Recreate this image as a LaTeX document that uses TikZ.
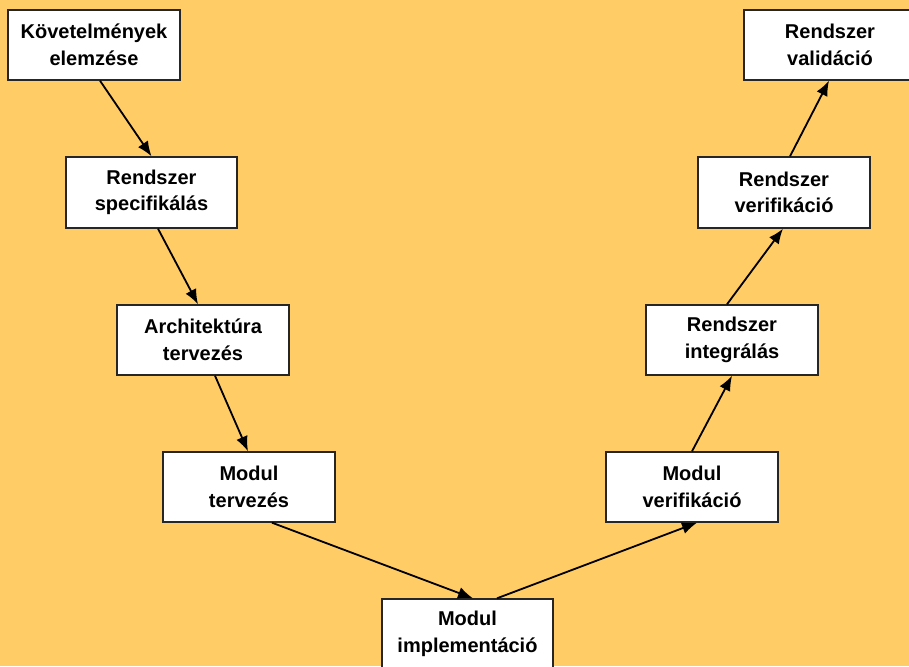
\documentclass[tikz,border=0pt]{standalone}
\usepackage{fontspec}
\setmainfont{Liberation Sans}
\usetikzlibrary{arrows.meta}
\definecolor{bgyellow}{HTML}{FFCC66}
\begin{document}
\begin{tikzpicture}[x=1pt,y=-1pt,
  stepbox/.style={draw=black!85, line width=1.4pt, fill=white, rectangle,
    minimum width=172pt, minimum height=70pt, inner sep=0pt, align=center,
    font=\bfseries\fontsize{20}{26.5}\selectfont},
  conn/.style={line width=1.8pt, -{Latex[length=15pt,width=12pt]}}]
\useasboundingbox (0,0) rectangle (909,666);
\clip (0,0) rectangle (909,666);
\fill[bgyellow] (0,0) rectangle (909,666);
\node[stepbox] (k1) at (94,45) {Követelmények\\elemzése};
\node[stepbox, minimum width=171pt, minimum height=71pt] (k2) at (151.5,192.5) {Rendszer\\specifikálás};
\node[stepbox] (k3) at (203,340) {Architektúra\\tervezés};
\node[stepbox] (k4) at (249,487) {Modul\\tervezés};
\node[stepbox, minimum width=171pt] (k5) at (467.5,634) {Modul\\implementáció};
\node[stepbox] (k6) at (692,487) {Modul\\verifikáció};
\node[stepbox] (k7) at (732,340) {Rendszer\\integrálás};
\node[stepbox, minimum height=71pt] (k8) at (784,192.5) {Rendszer\\verifikáció};
\node[stepbox] (k9) at (830,45) {Rendszer\\validáció};
\draw[conn] ([xshift=6pt]k1.south) -- ([xshift=0pt]k2.north);
\draw[conn] ([xshift=6.5pt]k2.south) -- ([xshift=-5pt]k3.north);
\draw[conn] ([xshift=12pt]k3.south) -- ([xshift=-1pt]k4.north);
\draw[conn] ([xshift=23pt]k4.south) -- ([xshift=5.5pt]k5.north);
\draw[conn] ([xshift=29.5pt]k5.north) -- ([xshift=5pt]k6.south);
\draw[conn] ([xshift=0pt]k6.north) -- ([xshift=0pt]k7.south);
\draw[conn] ([xshift=-5pt]k7.north) -- ([xshift=-1pt]k8.south);
\draw[conn] ([xshift=6pt]k8.north) -- ([xshift=-1pt]k9.south);
\end{tikzpicture}
\end{document}
